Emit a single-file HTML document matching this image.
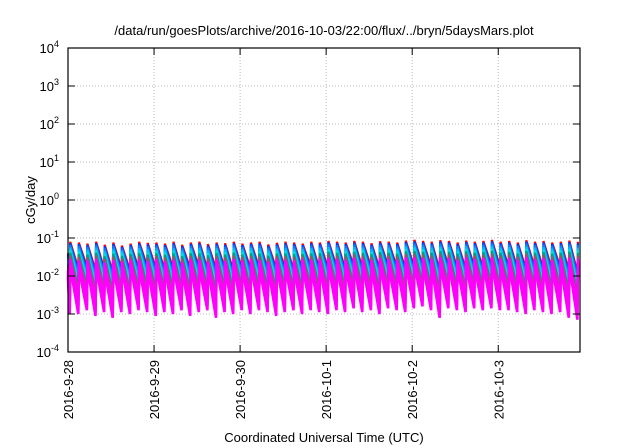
<!DOCTYPE html>
<html><head><meta charset="utf-8"><style>
html,body{margin:0;padding:0;background:#fff}
svg{display:block;font-family:"Liberation Sans",sans-serif}
</style></head><body>
<svg id="c" width="640" height="448"></svg>
<script>
const yTicks=[4,3,2,1,0,-1,-2,-3,-4];
const dayLabels=["2016-9-28","2016-9-29","2016-9-30","2016-10-1","2016-10-2","2016-10-3"];
const topPeak=[-1.1,-1.12,-1.15,-1.1,-1.18,-1.12,-1.2,-1.15,-1.1,-1.13,
-1.12,-1.15,-1.1,-1.18,-1.12,-1.1,-1.16,-1.12,-1.14,-1.1,
-1.15,-1.12,-1.1,-1.17,-1.13,-1.1,-1.12,-1.15,-1.1,-1.12,
-1.08,-1.1,-1.12,-1.08,-1.1,-1.14,-1.09,-1.1,-1.12,-1.07,
-1.05,-1.08,-1.1,-1.06,-1.08,-1.12,-1.07,-1.1,-1.08,-1.05,
-1.1,-1.08,-1.12,-1.06,-1.1,-1.08,-1.12,-1.1,-1.07,-1.1];
const topTrough=[-1.8,-1.75,-1.85,-1.8,-1.9,-1.8,-1.85,-1.8,-1.75,-1.8,
-1.82,-1.78,-1.85,-1.8,-1.75,-1.82,-1.8,-1.78,-1.85,-1.8,
-1.8,-1.76,-1.82,-1.8,-1.78,-1.85,-1.8,-1.75,-1.8,-1.78,
-1.75,-1.8,-1.72,-1.78,-1.75,-1.8,-1.72,-1.76,-1.8,-1.74,
-1.7,-1.75,-1.85,-1.72,-1.76,-1.8,-1.74,-1.78,-1.72,-1.76,
-1.75,-1.78,-1.8,-1.74,-1.78,-1.8,-1.76,-1.85,-1.9,-1.9];
const botPeak=[-1.75,-1.8,-1.78,-1.75,-1.85,-1.78,-1.8,-1.75,-1.78,-1.82,
-1.75,-1.8,-1.78,-1.84,-1.75,-1.78,-1.82,-1.75,-1.8,-1.75,
-1.78,-1.75,-1.8,-1.82,-1.75,-1.78,-1.8,-1.75,-1.78,-1.75,
-1.72,-1.75,-1.78,-1.72,-1.75,-1.78,-1.72,-1.75,-1.78,-1.7,
-1.7,-1.72,-1.75,-1.7,-1.72,-1.78,-1.7,-1.75,-1.72,-1.7,
-1.75,-1.72,-1.78,-1.7,-1.75,-1.72,-1.78,-1.75,-1.72,-1.75];
const botTrough=[-3.0,-2.9,-3.05,-2.95,-3.1,-2.95,-3.0,-2.9,-2.95,-3.05,
-2.95,-3.0,-2.9,-3.05,-2.95,-2.9,-3.1,-2.95,-3.0,-2.9,
-3.0,-2.9,-2.95,-3.05,-2.95,-2.9,-3.0,-2.9,-2.95,-3.0,
-2.9,-2.95,-2.85,-2.95,-2.9,-3.0,-2.85,-2.9,-2.95,-2.85,
-2.8,-2.9,-3.1,-2.85,-2.9,-2.95,-2.85,-2.9,-2.85,-2.9,
-2.9,-2.95,-3.0,-2.9,-2.95,-3.0,-2.95,-3.1,-3.15,-3.1];
const seriesFrac=[1,0.94,0.86,0.76,0.66,0.55,0.44,0.3,0.18,0.08,0];
const seriesColors=["#ff0000","#0040ff","#0080ff","#00b8ff","#00e0d0","#00a080","#a05070","#ff00ff","#ff00ff","#ff00ff","#ff00ff"];
const toothPeriod=0.1, toothOffset=0.02, totalDays=5.95;

const svg=document.getElementById('c');const NS='http://www.w3.org/2000/svg';
const L=68,R=580,T=48,B=352;
const xS=d=>L+d*(R-L)/totalDays;
const yS=v=>T+(4-v)*(B-T)/8;
function mk(tag,at,parent){const e=document.createElementNS(NS,tag);for(const k in at)e.setAttribute(k,at[k]);(parent||svg).appendChild(e);return e;}
yTicks.forEach(v=>{if(v<4&&v>-4){const g=mk('line',{x1:L,x2:R,y1:yS(v),y2:yS(v),stroke:'#bbb','stroke-dasharray':'1,2'});

}});
dayLabels.forEach((s,i)=>{if(i>0){const g=mk('line',{x1:xS(i),x2:xS(i),y1:T,y2:B,stroke:'#bbb','stroke-dasharray':'1,2'});

}});
const gS=mk('g',{});


seriesFrac.forEach((f,si)=>{
 let pts=[];
 const n=topPeak.length;
 for(let i=0;i<n;i++){
  const t0=toothOffset+i*toothPeriod;
  const pk=botPeak[i]+(topPeak[i]-botPeak[i])*f;
  const prevTr=i>0?botTrough[i-1]+(topTrough[i-1]-botTrough[i-1])*f:botTrough[0]+(topTrough[0]-botTrough[0])*f;
  if(i===0)pts.push([0,pk-0.3]);
  pts.push([t0,prevTr]);pts.push([t0+0.006,pk]);
 }
 const d=pts.filter(p=>p[0]<=totalDays).map((p,k)=>(k?'L':'M')+xS(p[0]).toFixed(1)+','+yS(p[1]).toFixed(1)).join('');
 const w=si>=7?2.6:2.2;
 const p=mk('path',{d:d,fill:'none',stroke:seriesColors[si],'stroke-width':w,'stroke-linejoin':'miter'},gS);
 
 
});
const fr=mk('rect',{x:L,y:T,width:R-L,height:B-T,fill:'none',stroke:'#000','stroke-width':1.2});


yTicks.forEach(v=>{
 const y=yS(v);
 mk('line',{x1:L,x2:L+7,y1:y,y2:y,stroke:'#000'});mk('line',{x1:R,x2:R-7,y1:y,y2:y,stroke:'#000'});
 const t=mk('text',{x:59,y:y+5,'text-anchor':'end','font-size':13});
 t.innerHTML='10<tspan dy="-6" font-size="9">'+v+'</tspan>';
 
 
});
dayLabels.forEach((s,i)=>{
 const x=xS(i);
 mk('line',{x1:x,x2:x,y1:B,y2:B-7,stroke:'#000'});mk('line',{x1:x,x2:x,y1:T,y2:T+7,stroke:'#000'});
 const t=mk('text',{x:0,y:0,'text-anchor':'end','font-size':13,transform:`translate(${x+5},${B+8}) rotate(-90)`});
 t.textContent=s;
 
 
});
const ti=mk('text',{x:324,y:35,'text-anchor':'middle','font-size':13});ti.textContent='/data/run/goesPlots/archive/2016-10-03/22:00/flux/../bryn/5daysMars.plot';


const yl=mk('text',{x:0,y:0,'text-anchor':'middle','font-size':13,transform:'translate(35,200) rotate(-90)'});yl.textContent='cGy/day';


const xl=mk('text',{x:324,y:442,'text-anchor':'middle','font-size':13});xl.textContent='Coordinated Universal Time (UTC)';


</script>
</body></html>
